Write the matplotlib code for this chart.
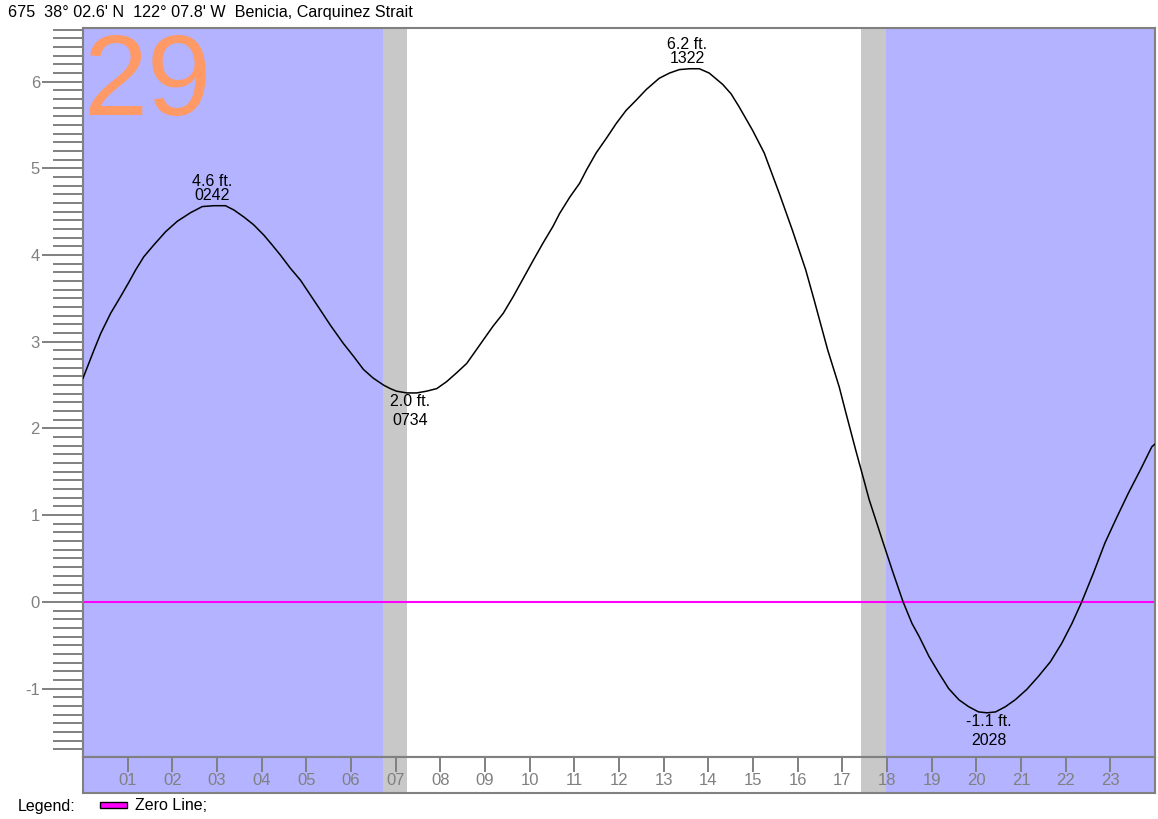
import numpy as np
import matplotlib
matplotlib.use("Agg")
import matplotlib.pyplot as plt
from matplotlib.patches import Rectangle

plt.rcParams['font.family'] = ['Liberation Sans', 'DejaVu Sans']

# ---------------- data ----------------
station_title = "675  38° 02.6' N  122° 07.8' W  Benicia, Carquinez Strait"
day_label = "29"

# predicted tide height (ft), time in hours of day
times = [0.00, 0.25, 0.40, 0.62, 0.84, 1.03, 1.18, 1.36, 1.59, 1.85, 2.11,
         2.41, 2.67, 2.93, 3.19, 3.38, 3.60, 3.82, 4.05, 4.23, 4.42, 4.64,
         4.87, 5.09, 5.31, 5.54, 5.83, 6.06, 6.28, 6.50, 6.73, 6.88, 7.02,
         7.25, 7.47, 7.69, 7.92, 8.14, 8.36, 8.59, 8.81, 8.96, 9.18, 9.41,
         9.63, 9.78, 10.08, 10.30, 10.52, 10.67, 10.90, 11.12, 11.27, 11.49,
         11.72, 11.94, 12.16, 12.39, 12.61, 12.90, 13.13, 13.35, 13.58, 13.80,
         14.02, 14.32, 14.51, 14.69, 14.99, 15.25, 15.59, 15.88,
         16.18, 16.37, 16.67, 16.93, 17.08, 17.30, 17.48, 17.60, 17.89,
         18.12, 18.36, 18.56, 18.72, 18.94, 19.16, 19.38, 19.61, 19.83, 20.05,
         20.24, 20.43, 20.65, 20.87, 21.13, 21.39, 21.66, 21.91, 22.14, 22.36,
         22.62, 22.88, 23.14, 23.40, 23.67, 23.93, 24.00]
heights = [2.58, 2.91, 3.10, 3.33, 3.52, 3.69, 3.83, 3.98, 4.12, 4.27, 4.39,
           4.49, 4.56, 4.57, 4.57, 4.52, 4.44, 4.35, 4.23, 4.12, 4.00, 3.85,
           3.71, 3.54, 3.37, 3.19, 2.98, 2.83, 2.68, 2.58, 2.50, 2.46, 2.43,
           2.41, 2.41, 2.43, 2.46, 2.54, 2.64, 2.75, 2.91, 3.02, 3.18, 3.33,
           3.52, 3.66, 3.94, 4.14, 4.33, 4.48, 4.67, 4.83, 4.98, 5.18,
           5.35, 5.52, 5.67, 5.79, 5.91, 6.04, 6.10, 6.14, 6.15, 6.15,
           6.10, 5.97, 5.86, 5.71, 5.44, 5.18, 4.71, 4.29,
           3.83, 3.48, 2.91, 2.48, 2.18, 1.75, 1.41, 1.18, 0.72,
           0.36, 0.00, -0.25, -0.40, -0.63, -0.82, -1.00, -1.13, -1.21, -1.27,
           -1.28, -1.27, -1.21, -1.13, -1.01, -0.86, -0.69, -0.48, -0.25, 0.00,
           0.33, 0.68, 0.97, 1.25, 1.52, 1.79, 1.82]

extreme_heights = ["4.6 ft.", "2.0 ft.", "6.2 ft.", "-1.1 ft."]
extreme_times = ["0242", "0734", "1322", "2028"]
extreme_kinds = ["high", "low", "high", "low"]

# twilight bands (hours): dawn and dusk
twilight_start = [6.72, 17.42]
twilight_end = [7.25, 17.98]

hour_ticks = list(range(1, 24))
hour_labels = ["%02d" % h for h in hour_ticks]
y_major = list(range(-1, 7))
y_minor = [i / 10 for i in range(-17, 67) if i % 10 != 0]

# ---------------- layout / style ----------------
W, H = 1158, 819
label_hours = [2.90, 7.32, 13.53, 20.28]   # where labels sit (flat part of extremum)
NIGHT = '#b3b3ff'
TWI = '#c8c8c8'
GRAY = '#808080'
PX = 0.72  # points per pixel at 100 dpi

fig = plt.figure(figsize=(W / 100, H / 100), dpi=100)
fig.patch.set_facecolor('white')

ax = fig.add_axes([83 / W, 1 - 757 / H, 1072 / W, 729 / H])
ax.set_xlim(0, 24)
ax.set_ylim(-1.79, 6.62)
ax.set_facecolor('white')


def shade(a):
    a.axvspan(0, twilight_start[0], color=NIGHT, lw=0, zorder=0)
    a.axvspan(twilight_start[0], twilight_end[0], color=TWI, lw=0, zorder=0)
    a.axvspan(twilight_start[1], twilight_end[1], color=TWI, lw=0, zorder=0)
    a.axvspan(twilight_end[1], 24, color=NIGHT, lw=0, zorder=0)


shade(ax)
ax.axhline(0, color='#ff00ff', lw=1.5, zorder=2)
ax.plot(times, heights, color='black', lw=1.1, zorder=3, solid_joinstyle='round')

ax.set_xticks([])
ax.set_yticks(y_major)
ax.set_yticklabels([str(v) for v in y_major])
ax.set_yticks(y_minor, minor=True)
ax.tick_params(axis='y', which='major', length=41 * PX, width=1.4, color=GRAY,
               labelcolor=GRAY, labelsize=12, pad=1.5)
ax.tick_params(axis='y', which='minor', length=30 * PX, width=1.4, color=GRAY)
for s in ax.spines.values():
    s.set_color(GRAY)
    s.set_linewidth(1.5)

# day number
ax.text(0.0, 1 - (115 - 28) / 729, day_label, transform=ax.transAxes,
        fontsize=83, color='#ff9966', ha='left', va='baseline', zorder=1)

# extreme labels
for hx, ht, tt, kind in zip(label_hours, extreme_heights, extreme_times, extreme_kinds):
    yv = float(np.interp(hx, times, heights))
    if kind == 'high':
        offs = (24, 10)
    else:
        offs = (-9, -28)
    ax.annotate(ht, xy=(hx, yv), xytext=(0, offs[0] * PX), textcoords='offset points',
                ha='center', va='center', fontsize=11.5, color='black', zorder=4)
    ax.annotate(tt, xy=(hx, yv), xytext=(0, offs[1] * PX), textcoords='offset points',
                ha='center', va='center', fontsize=11.5, color='black', zorder=4)

# hour band
bax = fig.add_axes([83 / W, 1 - 793 / H, 1072 / W, 36 / H])
bax.set_xlim(0, 24)
bax.set_ylim(0, 1)
shade(bax)
bax.set_yticks([])
bax.set_xticks(hour_ticks)
bax.tick_params(axis='x', direction='in', top=True, bottom=False, labeltop=False,
                labelbottom=False, length=15 * PX, width=1.4, color=GRAY)
for h, lab in zip(hour_ticks, hour_labels):
    bax.text(h, 0.36, lab, ha='center', va='center', fontsize=12, color=GRAY)
for s in bax.spines.values():
    s.set_color(GRAY)
    s.set_linewidth(1.5)

# title
fig.text(8 / W, 1 - 13 / H, station_title, fontsize=11.6, ha='left', va='center', color='black')

# legend
fig.text(18 / W, 1 - 806 / H, "Legend:", fontsize=11.5, ha='left', va='center', color='black')
fig.add_artist(Rectangle((100 / W, 1 - 808 / H), 27 / W, 6 / H, facecolor='#ff00ff',
                         edgecolor='black', lw=1, transform=fig.transFigure))
fig.text(135 / W, 1 - 806 / H, "Zero Line;", fontsize=11.5, ha='left', va='center', color='black')

fig.savefig('out.png', dpi=100)
